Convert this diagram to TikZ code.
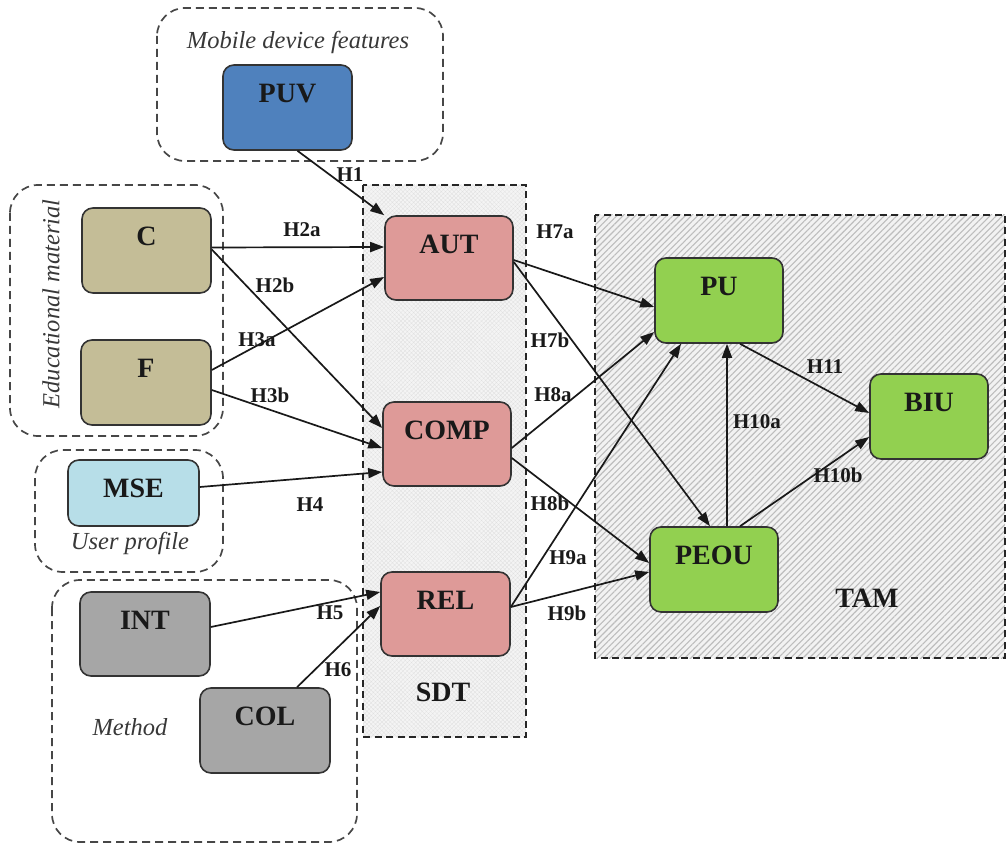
\documentclass[tikz,border=0pt]{standalone}
\usepackage{fontspec}
\setmainfont{Liberation Serif}
\usetikzlibrary{arrows.meta,patterns.meta}

\definecolor{puvblue}{HTML}{4F81BD}
\definecolor{tan}{HTML}{C4BD97}
\definecolor{mseblue}{HTML}{B7DEE8}
\definecolor{greybox}{HTML}{A6A6A6}
\definecolor{sdtpink}{HTML}{DE9A98}
\definecolor{tamgreen}{HTML}{92D050}

\begin{document}
\begin{tikzpicture}[x=1pt,y=-1pt,
  box/.style={draw=black!80, line width=1.6pt, rounded corners=11pt,
              minimum width=129pt, minimum height=85pt, inner sep=0pt},
  boxtext/.style={font=\fontsize{28}{30}\selectfont\bfseries, text=black!90,
                  anchor=center, yshift=-29pt, inner sep=0pt},
  tag/.style={label={[boxtext]north:#1}},
  group/.style={draw=black!72, line width=1.7pt, dash pattern=on 8pt off 5pt,
                rounded corners=28pt},
  frame/.style={draw=black!85, line width=1.6pt, dash pattern=on 7pt off 4.5pt},
  arr/.style={draw=black!90, line width=1.7pt, -{Triangle[length=14pt,width=10pt]}},
  hlab/.style={font=\fontsize{21}{23}\selectfont\bfseries, text=black!90, inner sep=0pt},
  grouplab/.style={font=\fontsize{24.5}{26}\selectfont\itshape, text=black!78, inner sep=0pt},
  biglab/.style={font=\fontsize{28}{30}\selectfont\bfseries, text=black!90, inner sep=0pt},
]
\useasboundingbox (0,0) rectangle (1007,845);

% theory regions (SDT, TAM)
\fill[gray!9] (363,185) rectangle (526,737);
\fill[pattern={Hatch[angle=45,distance=3pt,line width=0.3pt]}, pattern color=gray!24]
  (363,185) rectangle (526,737);
\draw[frame] (363,185) rectangle (526,737);

\fill[gray!10] (595,215) rectangle (1005,658);
\fill[pattern={Lines[angle=45,distance=4.4pt,line width=1.1pt]}, pattern color=gray!52]
  (595,215) rectangle (1005,658);
\draw[frame] (595,215) rectangle (1005,658);

% construct groups
\draw[group] (157,8) rectangle (443,161);
\draw[group] (10,185) rectangle (223,436);
\draw[group] (35,450) rectangle (223,572);
\draw[group] (52,580) rectangle (357,842);

% construct boxes
\node[box, fill=puvblue, tag=PUV] (PUV) at (287.5,107.5) {};
\node[box, fill=tan, tag=C] (C) at (146.5,250.5) {};
\node[box, fill=tan, minimum width=130pt, tag=F] (F) at (146,382.5) {};
\node[box, fill=mseblue, minimum width=131pt, minimum height=66pt, tag=MSE] (MSE) at (133.5,493) {};
\node[box, fill=greybox, minimum width=130pt, minimum height=84pt, tag=INT] (INT) at (145,634) {};
\node[box, fill=greybox, minimum width=130pt, tag=COL] (COL) at (265,730.5) {};
\node[box, fill=sdtpink, minimum width=128pt, minimum height=84pt, tag=AUT] (AUT) at (449,258) {};
\node[box, fill=sdtpink, minimum width=128pt, minimum height=84pt, tag=COMP] (COMP) at (447,444) {};
\node[box, fill=sdtpink, minimum height=84pt, tag=REL] (REL) at (445.5,614) {};
\node[box, fill=tamgreen, minimum width=128pt, tag=PU] (PU) at (719,300.5) {};
\node[box, fill=tamgreen, minimum width=118pt, tag=BIU] (BIU) at (929,416.5) {};
\node[box, fill=tamgreen, minimum width=128pt, tag=PEOU] (PEOU) at (714,569.5) {};

% hypotheses
\draw[arr] ([xshift=10pt]PUV.south) -- (AUT.north west);
\draw[arr] ([yshift=3pt]C.east) -- ([yshift=11pt]AUT.west);
\draw[arr] ([yshift=1pt]C.east) -- ([yshift=16pt]COMP.west);
\draw[arr] ([yshift=12.5pt]F.east) -- ([yshift=-19pt]AUT.west);
\draw[arr] ([yshift=-7.5pt]F.east) -- ([yshift=-4pt]COMP.west);
\draw[arr] ([yshift=6pt]MSE.east) -- ([yshift=-28pt]COMP.west);
\draw[arr] ([yshift=7pt]INT.east) -- ([yshift=22pt]REL.west);
\draw[arr] ([xshift=32pt]COL.north) -- ([yshift=8pt]REL.west);
\draw[arr] ([yshift=-2pt]AUT.east) -- ([yshift=-6.5pt]PU.west);
\draw[arr] ([yshift=-4pt]AUT.east) -- ([xshift=-4pt]PEOU.north);
\draw[arr] ([yshift=-4pt]COMP.east) -- ([yshift=-31.5pt]PU.west);
\draw[arr] ([yshift=-14pt]COMP.east) -- ([yshift=6.5pt]PEOU.west);
\draw[arr] ([yshift=7pt]REL.east) -- ([xshift=-38pt]PU.south);
\draw[arr] ([yshift=7pt]REL.east) -- ([yshift=-2.5pt]PEOU.west);
\draw[arr] ([xshift=13pt]PEOU.north) -- ([xshift=8pt]PU.south);
\draw[arr] ([xshift=21pt]PU.south) -- ([yshift=3.5pt]BIU.west);
\draw[arr] ([xshift=26pt]PEOU.north) -- ([yshift=-20.5pt]BIU.west);

% hypothesis labels
\node[hlab] (h1) at (350,175) {H1};
\node[hlab] (h2a) at (302,230) {H2a};
\node[hlab] (h2b) at (275,285) {H2b};
\node[hlab] (h3a) at (257,340) {H3a};
\node[hlab] (h3b) at (270,395) {H3b};
\node[hlab] (h4) at (310,505) {H4};
\node[hlab] (h5) at (330,613) {H5};
\node[hlab] (h6) at (338,670) {H6};
\node[hlab] (h7a) at (555,232) {H7a};
\node[hlab] (h7b) at (550,340) {H7b};
\node[hlab] (h8a) at (553,395) {H8a};
\node[hlab] (h8b) at (550,503) {H8b};
\node[hlab] (h9a) at (568,558) {H9a};
\node[hlab] (h9b) at (567,613) {H9b};
\node[hlab] (h10a) at (757,422) {H10a};
\node[hlab] (h11) at (825,367) {H11};
\node[hlab] (h10b) at (838,475) {H10b};

% group and theory titles
\node[grouplab] (gmob) at (298,42) {Mobile device features};
\node[grouplab, rotate=90] (gedu) at (51,304) {Educational material};
\node[grouplab] (gusr) at (130,543) {User profile};
\node[grouplab] (gmet) at (130,727) {Method};
\node[biglab] (tsdt) at (443,692) {SDT};
\node[biglab] (ttam) at (867,598) {TAM};
\end{tikzpicture}
\end{document}
